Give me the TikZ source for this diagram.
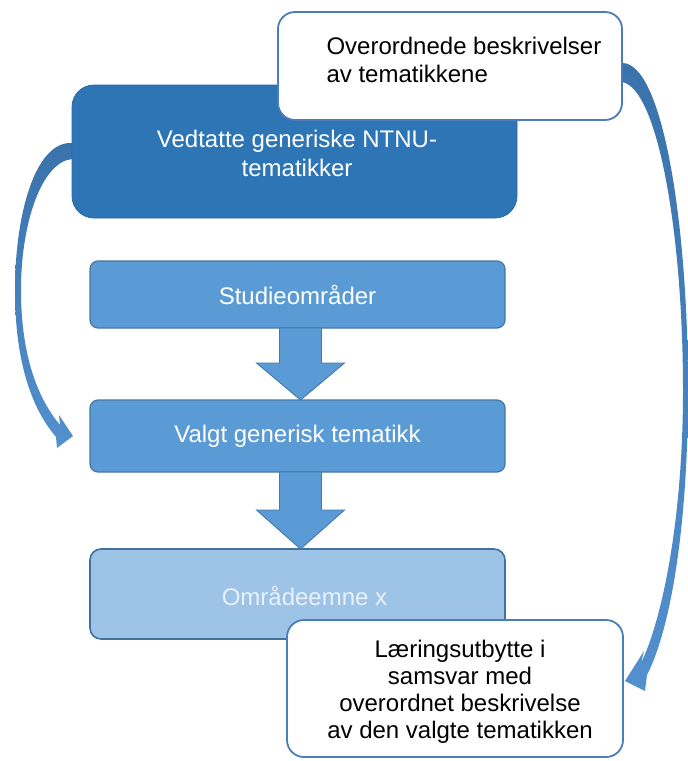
\documentclass[tikz,border=0pt]{standalone}
\usepackage{fontspec}
\setmainfont{Liberation Sans}
\usetikzlibrary{calc}
\definecolor{dkblue}{HTML}{2E75B6}
\definecolor{mdblue}{HTML}{5B9BD5}
\definecolor{ltblue}{HTML}{9DC3E6}
\definecolor{edgeblue}{HTML}{41719C}
\definecolor{wedge}{HTML}{4A7EBB}
\definecolor{txtlt}{HTML}{EAF1FA}
\definecolor{arrtop}{HTML}{3A72AB}
\definecolor{arrbot}{HTML}{5290CE}
\newcommand\blockarrow[3]{%
  \filldraw[blockarr] let \p1=(#1.south), \p2=(#2.north) in
   (\x1+3pt-21pt,\y1) -- (\x1+3pt+21pt,\y1) -- (\x1+3pt+21pt,\y2+#3) --
   (\x1+3pt+44pt,\y2+#3) -- (\x1+3pt,\y2) -- (\x1+3pt-44pt,\y2+#3) --
   (\x1+3pt-21pt,\y2+#3) -- cycle;}
\begin{document}
\begin{tikzpicture}[x=1pt,y=-1pt,
  every node/.style={font=\fontsize{24pt}{28pt}\selectfont},
  box/.style={anchor=north west, inner sep=0pt, outer sep=0pt},
  whitebox/.style={box, fill=white, draw=wedge, line width=1.8pt, rounded corners=17pt},
  darkbox/.style={box, fill=dkblue, draw=dkblue!90!black, line width=0.8pt, rounded corners=22pt},
  midbox/.style={box, fill=mdblue, draw=edgeblue!85!mdblue, line width=1.2pt, rounded corners=8pt, text=white},
  lightbox/.style={box, fill=ltblue, draw=edgeblue, line width=1.6pt, rounded corners=11pt},
  blockarr/.style={fill=mdblue, draw=edgeblue!80!mdblue, line width=0.9pt, line join=miter},
  curvearr/.style={top color=arrtop, bottom color=arrbot, draw=none}
]
\useasboundingbox (0,0) rectangle (688,761);

% curved arrows (behind boxes)
\shade[curvearr] (82,143) -- (72,143) .. controls (35,141) and (15,215) .. (15,290)
  .. controls (15,365) and (33,410) .. (56,437) -- (57,448) -- (73,436) -- (59,415)
  -- (60,425) .. controls (39,400) and (21,358) .. (21,290)
  .. controls (21,222) and (42,162) .. (72,159) -- (82,159) -- cycle;
\shade[curvearr] (612,63) -- (622,63) .. controls (662,62) and (688,220) .. (688,390)
  .. controls (688,530) and (670,630) .. (647,675) -- (645,691) -- (625,681) -- (644,651)
  -- (641,663) .. controls (662,620) and (683,520) .. (683,390)
  .. controls (683,235) and (658,88) .. (622,82) -- (612,82) -- cycle;

% boxes
\node[darkbox, minimum width=445pt, minimum height=133pt] (ntnu) at (72,85) {};
\node[align=center, text=white, anchor=base, font=\fontsize{24pt}{29pt}\selectfont] at (297,176) {Vedtatte generiske NTNU-\\tematikker};

\node[whitebox, minimum width=344pt, minimum height=108pt] (over) at (278,12) {};
\node[align=left, anchor=base west] at (323,82) {Overordnede beskrivelser\\av tematikkene};

\node[midbox, minimum width=415pt, minimum height=67pt] (studie) at (90,261) {Studieområder};
\node[midbox, minimum width=415pt, minimum height=72pt] (valgt) at (90,400) {Valgt generisk tematikk};
\node[lightbox, minimum width=415pt, minimum height=90pt] (omr) at (90,549) {};
\node[text=txtlt, anchor=base] at (304.5,605) {Områdeemne x};

\node[whitebox, minimum width=336pt, minimum height=137pt] (laer) at (287,620) {};
\node[align=center, anchor=base, font=\fontsize{24pt}{27pt}\selectfont] at (460,738)
  {Læringsutbytte i\\samsvar med\\overordnet beskrivelse\\av den valgte tematikken};

% block arrows
\blockarrow{studie}{valgt}{37pt}
\blockarrow{valgt}{omr}{39pt}
\end{tikzpicture}
\end{document}
